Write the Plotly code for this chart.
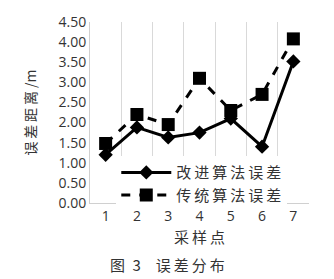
import plotly.graph_objects as go

categories = [1, 2, 3, 4, 5, 6, 7]
improved = [1.20, 1.88, 1.63, 1.75, 2.10, 1.40, 3.52]
traditional = [1.48, 2.20, 1.95, 3.10, 2.30, 2.70, 4.08]
ytick_vals = [0, 0.5, 1, 1.5, 2, 2.5, 3, 3.5, 4, 4.5]
ytick_text = ["%.2f" % v for v in ytick_vals]

cjk = "Noto Sans CJK SC"
num = "Open Sans"
sp = "\u2009"

def spaced(s):
    return sp.join(list(s))

fig = go.Figure()
fig.add_trace(go.Scatter(
    x=categories, y=improved, name=spaced("改进算法误差"), mode="lines+markers",
    line=dict(color="black", width=3),
    marker=dict(symbol="diamond", size=11, color="black")))
fig.add_trace(go.Scatter(
    x=categories, y=traditional, name=spaced("传统算法误差"), mode="lines+markers",
    line=dict(color="black", width=3, dash="dash"),
    marker=dict(symbol="square", size=13, color="black")))

fig.update_layout(
    width=334, height=279,
    margin=dict(l=90, r=25, t=20, b=76),
    paper_bgcolor="white", plot_bgcolor="white",
    showlegend=True,
    legend=dict(x=0.12, y=-0.045, xanchor="left", yanchor="bottom",
                bgcolor="white", font=dict(family=cjk, size=15, color="#333"),
                tracegroupgap=0, itemwidth=50),
    xaxis=dict(range=[0.5, 7.5], tickvals=categories,
               ticktext=[str(c) for c in categories],
               showgrid=False, showline=True, linecolor="#d0d0d0",
               tickfont=dict(family=num, size=14, color="#333"),
               ticks="", zeroline=False,
               minor=dict(tickvals=[1.5, 2.5, 3.5, 4.5, 5.5, 6.5, 7.5],
                          showgrid=True, gridcolor="#d9d9d9", gridwidth=1),
               title=dict(text=spaced("采样点"), font=dict(family=cjk, size=15, color="#333"),
                          standoff=8)),
    yaxis=dict(range=[0, 4.5], tickvals=ytick_vals, ticktext=ytick_text,
               showgrid=False, showline=True, linecolor="#d0d0d0",
               zeroline=False, ticks="",
               tickfont=dict(family=num, size=14, color="#333"),
               title=dict(text=spaced("误差距离") + " /m", font=dict(family=cjk, size=14, color="#333"),
                          standoff=18)),
)
fig.add_annotation(text="图\u2002" + "3\u3000" + spaced("误差分布"), xref="paper", yref="paper",
                   x=0.355, y=-0.34, showarrow=False, xanchor="center", yanchor="middle",
                   font=dict(family=cjk, size=15, color="#333"))

fig.write_html("out.html")
